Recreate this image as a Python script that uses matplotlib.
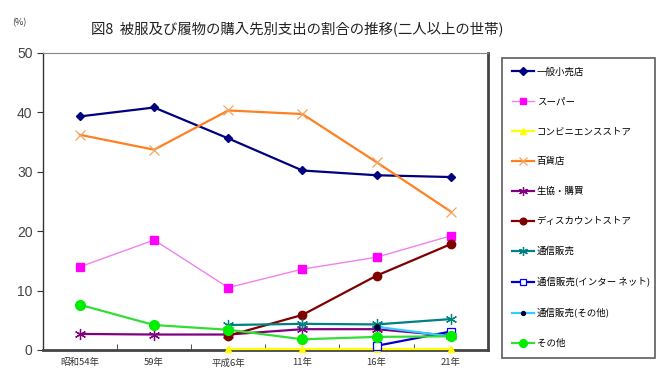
import numpy as np
import matplotlib
matplotlib.use('Agg')
import matplotlib.pyplot as plt

plt.rcParams['font.family'] = ['Noto Sans CJK JP', 'DejaVu Sans']

# 年次
years = ['昭和54年', '59年', '平成6年', '11年', '16年', '21年']

# 購入先別の割合 (%)、None は調査なし
ippan = [39.3, 40.8, 35.6, 30.2, 29.4, 29.1]
super_ = [14.0, 18.5, 10.5, 13.6, 15.6, 19.2]
konbini = [None, None, 0.2, 0.2, 0.2, 0.2]
hyakka = [36.2, 33.7, 40.3, 39.7, 31.6, 23.3]
seikyo = [2.7, 2.6, 2.6, 3.5, 3.5, 2.4]
discount = [None, None, 2.4, 5.9, 12.5, 17.8]
tsuhan = [None, None, 4.2, 4.4, 4.3, 5.2]
tsuhan_net = [None, None, None, None, 0.7, 3.1]
tsuhan_other = [None, None, None, None, 3.9, 2.3]
sonota = [7.6, 4.2, 3.4, 1.8, 2.2, 2.3]

series = [
    ('一般小売店', ippan, dict(color='#000080', lw=1.6, marker='D', ms=4.5, mfc='#000080', mec='#000080')),
    ('スーパー', super_, dict(color='#EE82EE', lw=1.0, marker='s', ms=5.5, mfc='#FF00FF', mec='#FF00FF')),
    ('コンビニエンスストア', konbini, dict(color='#FFFF00', lw=1.6, marker='^', ms=5, mfc='#FFFF00', mec='#FFFF00')),
    ('百貨店', hyakka, dict(color='#FF8020', lw=1.6, marker='x', ms=7, mew=0.9, mec='#F4A460')),
    ('生協・購買', seikyo, dict(color='#800080', lw=1.6, marker=(6, 2, 0), ms=8, mew=0.9, mec='#800080')),
    ('ディスカウントストア', discount, dict(color='#800000', lw=1.6, marker='o', ms=6, mfc='#800000', mec='#800000')),
    ('通信販売', tsuhan, dict(color='#008080', lw=1.6, marker=(6, 2, 0), ms=8, mew=0.9, mec='#008080')),
    ('通信販売(インター ネット)', tsuhan_net, dict(color='#0000CC', lw=1.6, marker='s', ms=6, mfc='white', mec='#0000FF', mew=0.9)),
    ('通信販売(その他)', tsuhan_other, dict(color='#33CCFF', lw=1.6, marker='o', ms=3.5, mfc='#000033', mec='#000033')),
    ('その他', sonota, dict(color='#33DD33', lw=1.6, marker='o', ms=7, mfc='#00EE00', mec='#00EE00')),
]

fig = plt.figure(figsize=(6.6, 3.8), dpi=100)
ax = fig.add_axes([0.065, 0.079, 0.674, 0.782])

x = np.arange(len(years))
for label, vals, style in series:
    y = np.array([np.nan if v is None else v for v in vals], dtype=float)
    ax.plot(x, y, label=label, zorder=3, clip_on=False, **style)

ax.set_xlim(-0.5, len(years) - 0.5)
ax.set_ylim(0, 50)
ax.set_yticks(range(0, 51, 10))
ax.set_xticks(x)
ax.set_xticklabels(years, fontsize=6.8, color='#333333')
ax.set_xticks(np.arange(-0.5, len(years), 1), minor=True)
ax.tick_params(axis='x', which='major', length=0, pad=6)
ax.tick_params(axis='x', which='minor', direction='in', length=4, color='#333333')
ax.tick_params(axis='y', direction='out', length=4, color='#333333', labelsize=10, labelcolor='#444444')
for t in ax.get_yticklabels():
    t.set_family(['Liberation Sans', 'DejaVu Sans'])

ax.spines['top'].set_color('#888888')
ax.spines['top'].set_linewidth(0.8)
ax.spines['left'].set_color('#333333')
ax.spines['left'].set_linewidth(1.0)
ax.spines['right'].set_color('#444444')
ax.spines['right'].set_linewidth(2.0)
ax.spines['bottom'].set_color('#444444')
ax.spines['bottom'].set_linewidth(2.0)

fig.text(0.45, 0.925, '図8  被服及び履物の購入先別支出の割合の推移(二人以上の世帯)',
         ha='center', va='center', fontsize=10.4, color='#222222')
fig.text(0.03, 0.94, '(%)', ha='center', va='center', fontsize=6.5, color='#333333')

leg = fig.legend(loc='upper left', bbox_to_anchor=(0.761, 0.066, 0.232, 0.782),
                 mode='expand', fontsize=6.8, labelspacing=2.2, handlelength=2.4,
                 borderaxespad=0, fancybox=False, frameon=True, edgecolor='#333333',
                 borderpad=1.0, handletextpad=0.25, markerscale=0.8)
leg.get_frame().set_linewidth(1.2)

plt.savefig('out.png', dpi=100)
plt.close()
